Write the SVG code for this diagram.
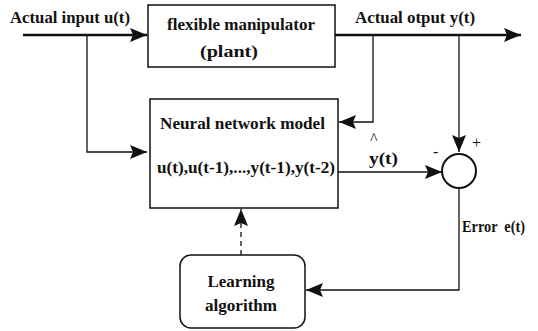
<svg xmlns="http://www.w3.org/2000/svg" width="538" height="331" viewBox="0 0 538 331">
<style>
text{font-family:"Liberation Serif","DejaVu Serif",serif;font-weight:bold;font-size:16px;fill:#111}
.box{fill:#fff;stroke:#111;stroke-width:1.5}
.ln{fill:none;stroke:#111;stroke-width:1.3}
.thick{fill:none;stroke:#111;stroke-width:2.6}
.thin{font-weight:normal}
</style>
<defs>
<marker id="ah" markerUnits="userSpaceOnUse" markerWidth="18" markerHeight="14" refX="17" refY="7" orient="auto">
<path d="M0,0 L17,7 L0,14 L3,7 Z" fill="#111"/>
</marker>
</defs>
<rect width="538" height="331" fill="#fff"/>
<g id="connectors">
<line class="thick" x1="23" y1="35" x2="147" y2="35" marker-end="url(#ah)"/>
<polyline class="ln" points="87,35 87,152 147,152" marker-end="url(#ah)"/>
<line class="thick" x1="335" y1="35" x2="521" y2="35" marker-end="url(#ah)"/>
<polyline class="ln" points="373,35 373,122 339,122" marker-end="url(#ah)"/>
<line class="ln" x1="459" y1="35" x2="459" y2="152" marker-end="url(#ah)"/>
<line class="ln" x1="338" y1="172" x2="442" y2="172" marker-end="url(#ah)"/>
<polyline class="ln" points="459,189 459,290 306,290" marker-end="url(#ah)"/>
<line class="ln" x1="241" y1="255" x2="241" y2="209" stroke-dasharray="5,4" marker-end="url(#ah)"/>
</g>
<g id="plant">
<rect class="box" x="148" y="5" width="187" height="62"/>
<text x="241" y="30" text-anchor="middle" textLength="148" lengthAdjust="spacingAndGlyphs">flexible manipulator</text>
<text x="229" y="57" text-anchor="middle" textLength="58" lengthAdjust="spacingAndGlyphs">(plant)</text>
</g>
<g id="nn">
<rect class="box" x="150" y="99" width="188" height="109"/>
<text x="160" y="129" textLength="165" lengthAdjust="spacingAndGlyphs">Neural network model</text>
<text x="157" y="173" textLength="178" lengthAdjust="spacingAndGlyphs">u(t),u(t-1),...,y(t-1),y(t-2)</text>
</g>
<g id="sum">
<circle cx="459" cy="171" r="17" fill="#fff" stroke="#111" stroke-width="2"/>
<text x="433" y="157" class="thin" font-size="15">-</text>
<text x="472" y="148" class="thin" font-size="16">+</text>
</g>
<g id="learning">
<rect class="box" x="180" y="255" width="125" height="73" rx="11" ry="11"/>
<text x="241" y="287" text-anchor="middle" textLength="67" lengthAdjust="spacingAndGlyphs">Learning</text>
<text x="241" y="311" text-anchor="middle" textLength="72" lengthAdjust="spacingAndGlyphs">algorithm</text>
</g>
<g id="labels">
<text x="10" y="23" textLength="120" lengthAdjust="spacingAndGlyphs">Actual input u(t)</text>
<text x="355" y="23" textLength="120" lengthAdjust="spacingAndGlyphs">Actual otput y(t)</text>
<text x="369" y="164" textLength="29" lengthAdjust="spacingAndGlyphs">y(t)</text>
<text x="370" y="144" class="thin" font-size="10">^</text>
<text x="462" y="232" textLength="63" lengthAdjust="spacingAndGlyphs" xml:space="preserve">Error  e(t)</text>
</g>
</svg>
